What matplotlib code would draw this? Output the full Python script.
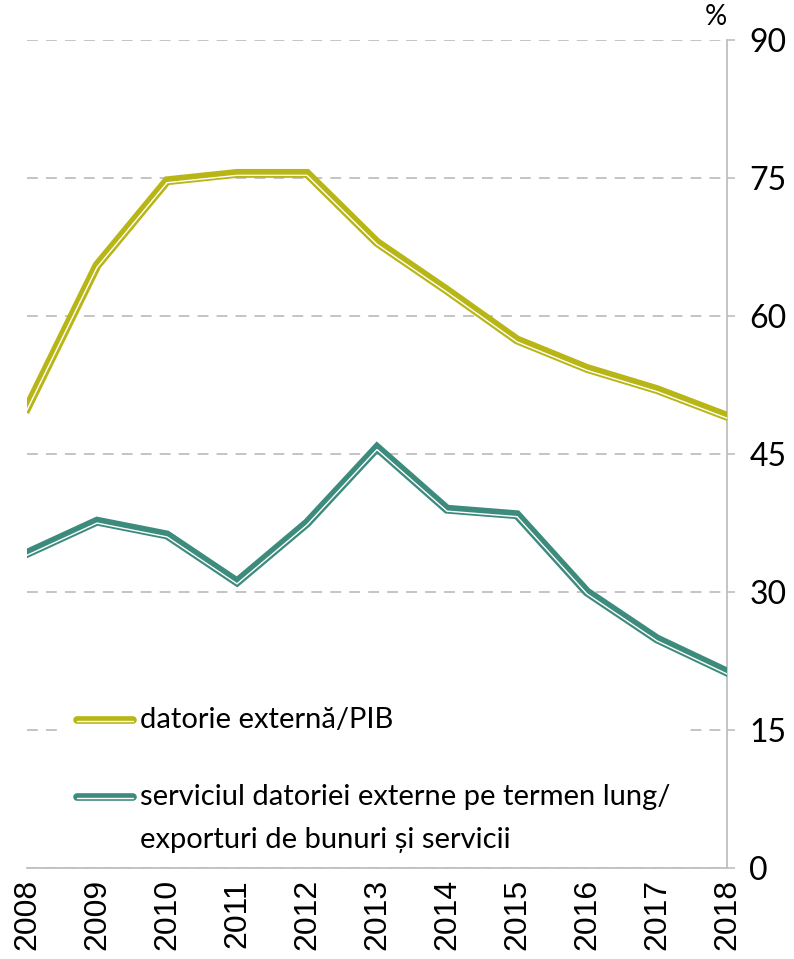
import matplotlib
matplotlib.use("Agg")
import matplotlib.pyplot as plt
import matplotlib.patheffects as pe
from matplotlib.patches import Rectangle

# data
years = [2008, 2009, 2010, 2011, 2012, 2013, 2014, 2015, 2016, 2017, 2018]
datorie_pib = [50.0, 65.5, 74.7, 75.5, 75.5, 68.0, 62.8, 57.4, 54.3, 52.0, 49.1]
serviciu_export = [34.2, 37.7, 36.2, 31.1, 37.5, 45.7, 39.0, 38.4, 30.0, 24.9, 21.3]
y_ticks = [0, 15, 30, 45, 60, 75, 90]
labels = ["datorie externă/PIB",
          "serviciul datoriei externe pe termen lung/",
          "exporturi de bunuri și servicii"]

YELLOW = "#B7B616"
TEAL = "#3D8B7D"
GRID = "#BFBFBF"
TXT_FONT = ["Lato", "DejaVu Sans"]


def compound(color, lw=6.4, off=1.4):
    # thick line with a thin white stripe near its lower edge
    return [pe.Stroke(linewidth=lw, foreground=color),
            pe.Stroke(linewidth=1.0, foreground="white", offset=(0, -off))]


fig = plt.figure(figsize=(7.94, 9.59), dpi=100)
ax = fig.add_axes([27 / 794, 1 - 868 / 959, 700 / 794, 828 / 959])

ax.plot(years, datorie_pib, color=YELLOW, lw=6.4, path_effects=compound(YELLOW),
        solid_joinstyle="miter", zorder=3)
ax.plot(years, serviciu_export, color=TEAL, lw=6.4, path_effects=compound(TEAL),
        solid_joinstyle="miter", zorder=3)

ax.set_xlim(years[0], years[-1])
ax.set_ylim(0, 90)
ax.set_yticks(y_ticks)
ax.set_xticks(years)
ax.set_xticklabels([str(y) for y in years], rotation=90, fontsize=23,
                   family=["Liberation Sans", "DejaVu Sans"])

ax.yaxis.tick_right()
ax.tick_params(axis="y", direction="out", length=6, width=1.2, color=GRID,
               labelsize=23, pad=10)
for t in ax.get_yticklabels():
    t.set_family(TXT_FONT)
ax.tick_params(axis="x", length=0, pad=8)

ax.grid(axis="y", color=GRID, lw=1.3, linestyle=(0, (6, 4.5)))
ax.set_axisbelow(True)
for side in ["left", "top"]:
    ax.spines[side].set_visible(False)
ax.spines["right"].set_color(GRID)
ax.spines["right"].set_linewidth(1.3)
ax.spines["bottom"].set_color(GRID)
ax.spines["bottom"].set_linewidth(1.3)

ax.text(1.0, 1.012, "%", transform=ax.transAxes, ha="right", va="bottom",
        fontsize=20, family=TXT_FONT)

# legend, drawn by hand to keep the handle on the first label line
ax.add_patch(Rectangle((0.045, 0.035), 0.9, 0.17, transform=ax.transAxes,
                       facecolor="white", edgecolor="none", zorder=2))


def ay(py):
    return 1 - (py - 40) / 828


for col, py in zip([YELLOW, TEAL], [720, 797]):
    ax.plot([0.072, 0.151], [ay(py), ay(py)], transform=ax.transAxes, color=col,
            lw=5.5, path_effects=compound(col, 5.5, 0.8),
            solid_capstyle="round", clip_on=False, zorder=4)
for lab, py in zip(labels, [720, 797, 840]):
    ax.text(0.161, ay(py), lab, transform=ax.transAxes, ha="left", va="center",
            fontsize=21, family=TXT_FONT, zorder=4)

fig.savefig("out.png", dpi=100)
